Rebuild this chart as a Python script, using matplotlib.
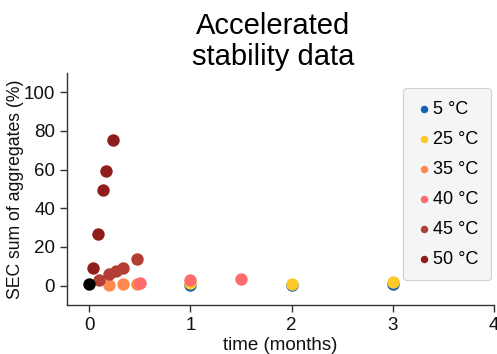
import matplotlib
matplotlib.use("Agg")
import matplotlib.pyplot as plt

plt.rcParams['font.family'] = ['Liberation Sans', 'DejaVu Sans']

# Initial sample (t = 0)
t0_time = [0.0]
t0_agg = [0.8]

# Aggregate content (%) per storage temperature, time in months
labels = ['5 °C', '25 °C', '35 °C', '40 °C', '45 °C', '50 °C']
colors = ['#1461b0', '#ffc82a', '#ff8a4e', '#ff6b6b', '#b23e35', '#8e1d1c']

time_5 = [1.0, 2.0, 3.0]
agg_5 = [0.3, 0.5, 0.9]

time_25 = [1.0, 2.0, 3.0]
agg_25 = [1.3, 0.9, 1.7]

time_35 = [0.2, 0.333, 0.467]
agg_35 = [0.2, 1.0, 1.0]

time_40 = [0.5, 1.0, 1.5]
agg_40 = [1.6, 3.0, 3.4]

time_45 = [0.1, 0.2, 0.267, 0.333, 0.467]
agg_45 = [2.9, 5.8, 7.4, 9.2, 14.0]

time_50 = [0.033, 0.083, 0.133, 0.167, 0.233]
agg_50 = [8.9, 26.9, 49.3, 59.4, 75.1]

series = [(time_5, agg_5), (time_25, agg_25), (time_35, agg_35),
          (time_40, agg_40), (time_45, agg_45), (time_50, agg_50)]

fig = plt.figure(figsize=(4.97, 3.54), dpi=100)
ax = fig.add_axes([0.1348, 0.1384, 0.8592, 0.6556])

for (tx, ty), lab, col in zip(series, labels, colors):
    ax.scatter(tx, ty, s=80, color=col, label=lab, linewidths=0, zorder=3)
ax.scatter(t0_time, t0_agg, s=80, color='black', linewidths=0, zorder=4)

ax.set_xlim(-0.22, 4.0)
ax.set_ylim(-10, 110)
ax.set_xticks([0, 1, 2, 3, 4])
ax.set_yticks([0, 20, 40, 60, 80, 100])

for side in ('top', 'right'):
    ax.spines[side].set_visible(False)
for side in ('left', 'bottom'):
    ax.spines[side].set_color('#333333')
    ax.spines[side].set_linewidth(1.0)
ax.tick_params(axis='both', colors='#333333', labelcolor='#111111',
               labelsize=13.5, length=5, width=1.0, direction='out')

ax.set_xlabel('time (months)', fontsize=13.5, color='#111111', labelpad=2)
ax.set_ylabel('SEC sum of aggregates (%)', fontsize=12.7, color='#111111', labelpad=0)

fig.text(0.55, 0.965, 'Accelerated\nstability data', ha='center', va='top',
         fontsize=21, linespacing=1.12)

leg = ax.legend(loc='upper right', bbox_to_anchor=(0.993, 0.935), fontsize=13,
                markerscale=0.6, handletextpad=0.05, labelspacing=0.72,
                borderpad=0.7, handlelength=0.9, frameon=True, fancybox=True,
                facecolor='#f5f5f5', edgecolor='#d0d0d0', framealpha=1.0,
                borderaxespad=0)
leg.get_frame().set_linewidth(0.8)

fig.savefig('out.png', dpi=100)
